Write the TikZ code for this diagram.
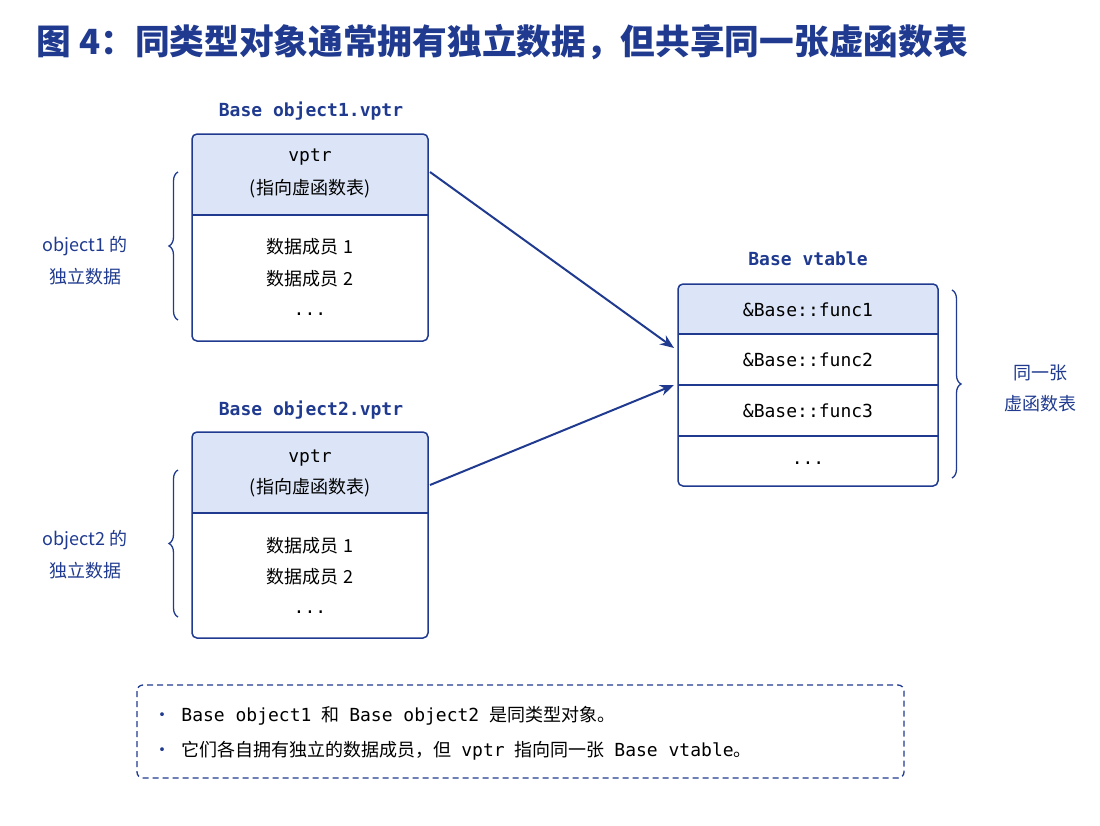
\documentclass[tikz,border=0pt]{standalone}
\usepackage{fontspec}
\setmainfont{Noto Sans CJK SC}
\setmonofont{DejaVu Sans Mono}
\usetikzlibrary{decorations.pathreplacing,arrows.meta}
\definecolor{navy}{HTML}{1F3A8F}
\definecolor{hdr}{HTML}{DCE5F7}
\newcommand{\gap}{\hspace{0.55em}}
\begin{document}
\begin{tikzpicture}[x=1pt,y=-1pt,
    txt/.style={font=\fontsize{18}{20}\selectfont,text=black},
    mono/.style={font=\fontsize{18}{20}\selectfont\ttfamily,text=black},
    ttl/.style={font=\fontsize{18}{20}\selectfont\ttfamily\bfseries,text=navy},
    box/.style={draw=navy,line width=1.5pt,rounded corners=5pt},
    brc/.style={draw=navy,line width=1.3pt,decorate,decoration={brace,amplitude=9pt}},
    arr/.style={draw=navy,line width=2pt,-{Stealth[length=14pt,width=11pt]}}]
  \useasboundingbox (0,0) rectangle (1100,825);%
  \node[anchor=west,font=\fontsize{34.7}{37}\selectfont\bfseries,text=navy] (title) at (33,42) {图 4：同类型对象通常拥有独立数据，但共享同一张虚函数表};%

  % object1
  \fill[hdr,rounded corners=5pt] (192,134) rectangle (428,215);%
  \fill[hdr] (192,190) rectangle (428,215);%
  \draw[navy,line width=1.2pt] (192,215) -- (428,215);%
  \draw[box] (192,134) rectangle (428,341);%
  \coordinate (o1) at (430,172);%
  \node[ttl] (l1) at (311,111) {Base object1.vptr};%
  \node[mono] (v1) at (310,157) {vptr};%
  \node[txt] (p1) at (310,189) {(指向虚函数表)};%
  \node[txt] (d11) at (310,247) {数据成员 1};%
  \node[txt] (d12) at (310,279) {数据成员 2};%
  \node[mono] (e1) at (310,314) {...};%
  \draw[brc] (178,320) -- (178,172);%
  \node[txt,text=navy] (n1a) at (85,246) {object1 的};%
  \node[txt,text=navy] (n1b) at (85,277) {独立数据};%

  % object2
  \fill[hdr,rounded corners=5pt] (192,432) rectangle (428,513);%
  \fill[hdr] (192,490) rectangle (428,513);%
  \draw[navy,line width=1.2pt] (192,513) -- (428,513);%
  \draw[box] (192,432) rectangle (428,638);%
  \coordinate (o2) at (430,485);%
  \node[ttl] (l2) at (311,410) {Base object2.vptr};%
  \node[mono] (v2) at (310,458) {vptr};%
  \node[txt] (p2) at (310,488) {(指向虚函数表)};%
  \node[txt] (d21) at (310,546) {数据成员 1};%
  \node[txt] (d22) at (310,577) {数据成员 2};%
  \node[mono] (e2) at (310,612) {...};%
  \draw[brc] (178,617) -- (178,470);%
  \node[txt,text=navy] (n2a) at (85,540) {object2 的};%
  \node[txt,text=navy] (n2b) at (85,571) {独立数据};%

  % vtable
  \fill[hdr,rounded corners=5pt] (678,284) rectangle (938,334);%
  \fill[hdr] (678,310) rectangle (938,334);%
  \draw[navy,line width=1.2pt] (678,334) -- (938,334);%
  \draw[navy,line width=1.2pt] (678,385) -- (938,385);%
  \draw[navy,line width=1.2pt] (678,436) -- (938,436);%
  \draw[box] (678,284) rectangle (938,486);%
  \node[ttl] (lv) at (808,259) {Base vtable};%
  \node[mono] (f1) at (808,310) {\&Base::func1};%
  \node[mono] (f2) at (808,360) {\&Base::func2};%
  \node[mono] (f3) at (808,411) {\&Base::func3};%
  \node[mono] (f4) at (808,463) {...};%
  \coordinate (t1) at (674,348);%
  \coordinate (t2) at (674,385);%
  \draw[brc] (952,290) -- (952,478);%
  \node[txt,text=navy] (sa) at (1040,373) {同一张};%
  \node[txt,text=navy] (sb) at (1040,404) {虚函数表};%

  \draw[arr] (o1) -- (t1);%
  \draw[arr] (o2) -- (t2);%

  % note
  \draw[navy,line width=1.3pt,dashed,dash pattern=on 6pt off 4pt,rounded corners=6pt] (137,685) rectangle (904,778);%
  \node[txt,anchor=west] (b1) at (150,716) {\textcolor{navy}{•}\gap\texttt{Base object1}\gap 和\gap\texttt{Base object2}\gap 是同类型对象。};%
  \node[txt,anchor=west] (b2) at (150,751) {\textcolor{navy}{•}\gap 它们各自拥有独立的数据成员，但\gap\texttt{vptr}\gap 指向同一张\gap\texttt{Base vtable}。};%
\end{tikzpicture}
\end{document}
